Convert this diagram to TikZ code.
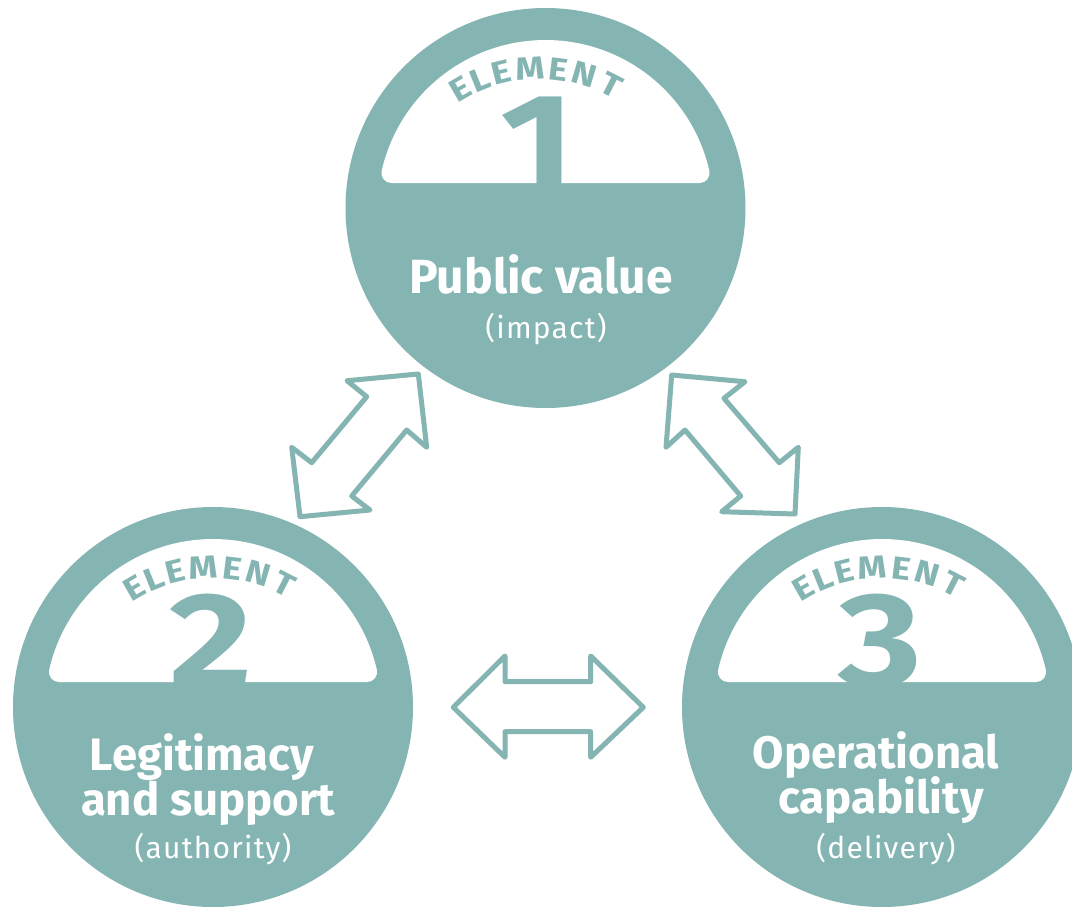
\documentclass[tikz,border=0pt]{standalone}
\usepackage{fontspec}
\setmainfont{Fira Sans}
\definecolor{tealc}{RGB}{132,181,178}
\tikzset{
  disc/.style={fill=tealc},
  dome/.style={fill=white, draw=white, line width=20pt, line join=round},
  digitfont/.style={font=\fontsize{134}{134}\selectfont\bfseries, text=tealc, anchor=base, inner sep=0pt, xscale=1.2},
  elemletter/.style={font=\fontsize{32}{32}\selectfont\bfseries, text=tealc, anchor=center, inner sep=0pt},
  titleA/.style={font=\fontsize{48}{48}\selectfont\bfseries, text=white, anchor=base, inner sep=0pt},
  titleB/.style={font=\fontsize{45.5}{45.5}\selectfont\bfseries, text=white, anchor=base, inner sep=0pt},
  subtext/.style={font=\fontsize{30}{30}\selectfont\addfontfeatures{LetterSpace=4}, text=white, anchor=base, inner sep=0pt},
  blockarrow/.style={draw=tealc, fill=white, line width=5pt, line join=round},
}
% #1 name, #2 cx, #3 cy, #4 digit, #5 text dx
\newcommand\drawelementdisc[5]{%
  \fill[disc] (#2,#3) circle (200);
  \pgfmathsetmacro\domr{158}
  \pgfmathsetmacro\doma{asin(35/158)}
  \pgfmathsetmacro\domb{-180+\doma}
  \pgfmathsetmacro\dome{-\doma}
  \path[dome] plot[domain=\domb:\dome, samples=90] ({#2+\domr*cos(\x)},{#3+\domr*sin(\x)}) -- cycle;
  \node[digitfont] (#1-digit) at (#2+#5-2,#3-21) {#4};
  \foreach \L/\a [count=\i] in {E/-30, L/-22, E/-14, M/-3.5, E/7, N/16.5, T/27}{
    \node[elemletter, rotate=-\a, xscale=1.15] (#1-l\i) at ({#2+#5+158*sin(\a)},{#3+18-158*cos(\a)}) {\L};
  }
}
\begin{document}
\begin{tikzpicture}[x=1pt,y=-1pt]
\useasboundingbox (0,0) rectangle (1072,908);
\clip (0,0) rectangle (1072,908);
\fill[white] (0,0) rectangle (1072,908);

\drawelementdisc{e1}{545.5}{208}{1}{-6}
\drawelementdisc{e2}{213}{707}{2}{0}
\drawelementdisc{e3}{882}{707}{3}{0}

\node[titleA] (t1) at (541,293) {Public value};
\node[subtext] (s1) at (546,338) {(impact)};

\node[titleB] (t2a) at (202,770) {Legitimacy};
\node[titleB] (t2b) at (208,815) {and support};
\node[subtext] (s2) at (213,858) {(authority)};

\node[titleB] (t3a) at (876,768) {Operational};
\node[titleB] (t3b) at (881,813) {capability};
\node[subtext] (s3) at (886,858) {(delivery)};

% left diagonal double arrow
\draw[blockarrow] (418.3,374) -- (426.7,447.3) -- (406.7,430) -- (351.7,496) -- (370,510)
  -- (300,516.7) -- (291.7,447.3) -- (311.7,462.7) -- (366.7,396.7) -- (347,380.7) -- cycle;
% right diagonal double arrow
\draw[blockarrow] (671.7,375) -- (745,381.7) -- (724,398.3) -- (779.3,462.7) -- (798.3,447.3)
  -- (795,514) -- (721.7,511.7) -- (740.7,496) -- (685,430) -- (666,447.3) -- cycle;
% horizontal double arrow
\draw[blockarrow] (453.3,707.3) -- (505,656) -- (505,681.7) -- (590.7,681.7) -- (590.7,656)
  -- (643.3,707.3) -- (590.7,757.3) -- (590.7,731.7) -- (505,731.7) -- (505,757.3) -- cycle;
\end{tikzpicture}
\end{document}
